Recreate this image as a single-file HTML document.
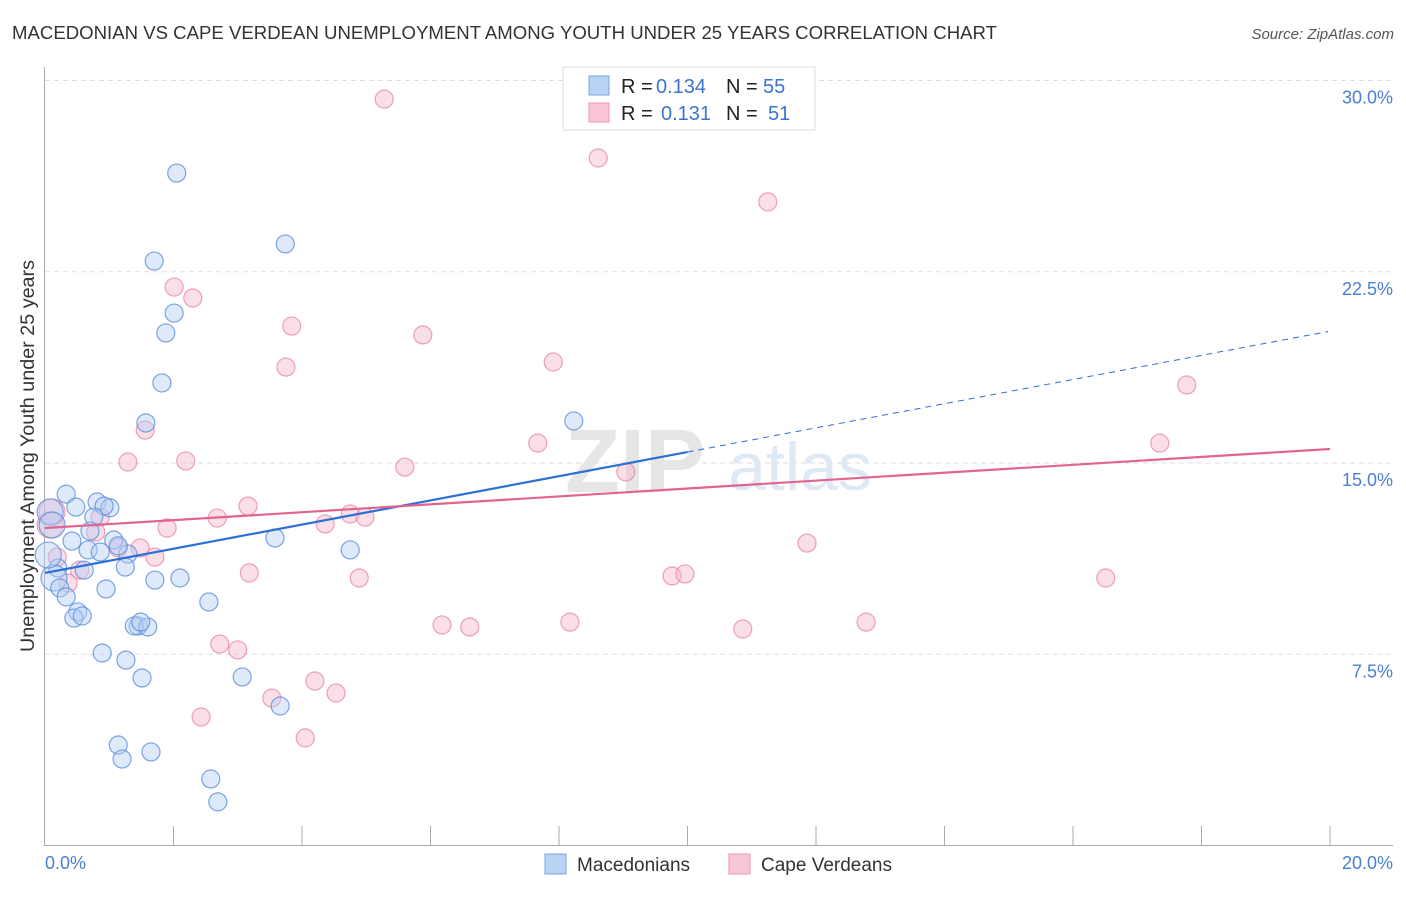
<!DOCTYPE html>
<html><head><meta charset="utf-8">
<style>
body{margin:0;background:#fff;font-family:"Liberation Sans",sans-serif;}
svg text{font-family:"Liberation Sans",sans-serif;}
</style></head>
<body>
<svg id="chart" width="1406" height="892" viewBox="0 0 1406 892" xmlns="http://www.w3.org/2000/svg">
<text x="12" y="39" font-size="18.5" fill="#333" textLength="985" lengthAdjust="spacingAndGlyphs">MACEDONIAN VS CAPE VERDEAN UNEMPLOYMENT AMONG YOUTH UNDER 25 YEARS CORRELATION CHART</text>
<text x="1394" y="39" font-size="15" fill="#555" font-style="italic" text-anchor="end">Source: ZipAtlas.com</text>
<g id="grid"></g>
<text x="635" y="492" font-size="90" fill="#e6e6e6" font-family="Liberation Serif" font-weight="bold" text-anchor="middle">ZIP</text>
<text x="800" y="490" font-size="68" fill="#dfe8f5" text-anchor="middle">atlas</text>
<g id="axes"></g>
<g id="pts"></g>
<g id="trend"></g>
<text transform="translate(34,456) rotate(-90)" font-size="19" fill="#333" text-anchor="middle" textLength="392" lengthAdjust="spacingAndGlyphs">Unemployment Among Youth under 25 years</text>
<text x="45" y="869" font-size="18" fill="#4a7fd4">0.0%</text>
<text x="1393" y="869" font-size="18" fill="#4a7fd4" text-anchor="end">20.0%</text>
<g>
<rect x="563" y="67" width="252" height="63" fill="#fff" stroke="#ddd"/>
<rect x="589" y="76" width="20" height="19" fill="#b9d3f5" stroke="#7aa6e0"/>
<rect x="589" y="103" width="20" height="19" fill="#f9c6d5" stroke="#eb97b0"/>
<text y="93" font-size="20"><tspan x="621" fill="#222">R = </tspan><tspan x="656" fill="#3a74d0">0.134</tspan><tspan x="726" fill="#222">N = </tspan><tspan x="763" fill="#3a74d0">55</tspan></text>
<text y="120" font-size="20"><tspan x="621" fill="#222">R = </tspan><tspan x="661" fill="#3a74d0">0.131</tspan><tspan x="726" fill="#222">N = </tspan><tspan x="768" fill="#3a74d0">51</tspan></text>
</g>
<g>
<rect x="545" y="854" width="21" height="20" fill="#b9d3f5" stroke="#7aa6e0"/>
<text x="577" y="871" font-size="19" fill="#333">Macedonians</text>
<rect x="729" y="854" width="21" height="20" fill="#f9c6d5" stroke="#eb97b0"/>
<text x="761" y="871" font-size="19" fill="#333">Cape Verdeans</text>
</g>
</svg>
<script>
const yTicks=[7.5,15,22.5,30];
const yTickLabels=["7.5%","15.0%","22.5%","30.0%"];
const xTicks=[2,4,6,8,10,12,14,16,18,20];
const blueX=[2.05,3.74,1.70,2.01,1.88,1.82,1.57,8.23,0.33,0.48,0.81,1.01,0.92,0.76,0.70,0.42,0.67,0.86,1.07,1.29,1.14,3.58,4.75,0.20,0.61,0.14,1.25,1.71,2.10,0.23,0.33,0.95,0.51,0.45,0.58,2.55,1.45,1.39,1.60,1.49,0.89,1.26,1.51,3.07,3.66,1.14,1.20,1.65,2.58,2.69,0.08,0.05,0.11];
const blueY=[26.37,23.59,22.92,20.88,20.10,18.14,16.57,16.65,13.78,13.27,13.47,13.24,13.31,12.88,12.33,11.94,11.59,11.51,11.98,11.43,11.75,12.06,11.59,10.88,10.80,10.49,10.92,10.41,10.49,10.10,9.75,10.06,9.16,8.92,9.00,9.55,8.61,8.61,8.57,8.76,7.55,7.27,6.57,6.61,5.47,3.94,3.39,3.67,2.61,1.71,13.08,11.39,12.57];
const pinkX=[5.28,8.61,11.25,2.01,2.30,3.84,5.88,3.75,7.91,17.77,1.56,7.67,17.35,1.29,2.19,5.60,9.04,3.16,2.68,4.75,4.98,4.36,1.90,0.86,0.79,1.14,1.48,1.71,0.19,0.36,0.54,11.86,3.18,4.89,9.76,9.96,16.51,6.18,6.61,8.17,10.86,12.78,2.72,3.00,4.20,3.53,4.53,2.43,4.05,0.08,0.11];
const pinkY=[29.27,26.96,25.24,21.90,21.47,20.37,20.02,18.76,18.96,18.06,16.29,15.78,15.78,15.04,15.08,14.84,14.65,13.31,12.84,13.00,12.88,12.61,12.45,12.88,12.29,11.67,11.67,11.31,11.31,10.29,10.80,11.86,10.69,10.49,10.57,10.65,10.49,8.65,8.57,8.76,8.49,8.76,7.90,7.67,6.45,5.78,5.98,5.04,4.22,12.57,13.08];
const blueTrend=[10.69,0.474];
const pinkTrend=[12.45,0.155];
const NS="http://www.w3.org/2000/svg";
const X=v=>45+v*64.25, Y=v=>463-(v-15)*25.5;
function mk(t,a,p){const e=document.createElementNS(NS,t);for(const k in a)e.setAttribute(k,a[k]);p.appendChild(e);return e;}
const grid=document.getElementById('grid'),axes=document.getElementById('axes'),pts=document.getElementById('pts'),trend=document.getElementById('trend');
yTicks.forEach((t,i)=>{
 const l=mk('line',{x1:45,x2:1393,y1:Y(t),y2:Y(t),stroke:'#ddd','stroke-dasharray':'5,4'},grid);
 
 
 const tx=mk('text',{x:1393,y:Y(t)+23,'font-size':18,fill:'#4a7fd4','text-anchor':'end'},grid);
 tx.textContent=yTickLabels[i];
 
 
});
let a=mk('line',{x1:44.5,x2:44.5,y1:67,y2:845,stroke:'#aaa'},axes);


a=mk('line',{x1:44,x2:1393,y1:845.5,y2:845.5,stroke:'#aaa'},axes);


xTicks.forEach(t=>{const l=mk('line',{x1:X(t),x2:X(t),y1:826,y2:845,stroke:'#aaa'},axes);
 
 });
function dots(xs,ys,fill,stroke,name){xs.forEach((x,i)=>{const r=(x<0.15)?13:9;
 const c=mk('circle',{cx:X(x),cy:Y(ys[i]),r:r,fill:fill,'fill-opacity':0.45,stroke:stroke,'stroke-width':1.2,'stroke-opacity':0.8},pts);
 
 });}
dots(pinkX,pinkY,'#f6b8cb','#e88aa8','cape-verdean-point');
dots(blueX,blueY,'#b5cff3','#5b8fdc','macedonian-point');
let t=mk('line',{x1:X(0),y1:Y(blueTrend[0]),x2:X(10),y2:Y(blueTrend[0]+10*blueTrend[1]),stroke:'#2c6fd6','stroke-width':2.2},trend);


t=mk('line',{x1:X(10),y1:Y(blueTrend[0]+10*blueTrend[1]),x2:X(19.97),y2:Y(blueTrend[0]+19.97*blueTrend[1]),stroke:'#2c6fd6','stroke-width':1,'stroke-dasharray':'6,5'},trend);


t=mk('line',{x1:X(0),y1:Y(pinkTrend[0]),x2:X(20),y2:Y(pinkTrend[0]+20*pinkTrend[1]),stroke:'#e2648e','stroke-width':2.2},trend);


</script>
</body></html>
